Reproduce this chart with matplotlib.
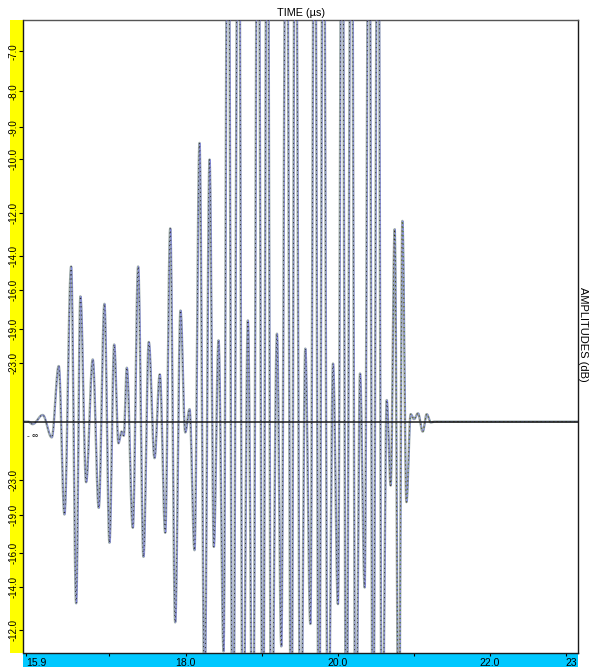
import numpy as np
import matplotlib
matplotlib.use("Agg")
import matplotlib.pyplot as plt
from matplotlib.patches import Rectangle

plt.rcParams['font.family'] = ['Liberation Sans', 'DejaVu Sans']

# Successive extrema of the received echo: time (µs) and linear amplitude (0 dB = 1.0)
echo_time_us = [
    15.870, 15.930, 15.990, 16.122, 16.241, 16.333, 16.408, 16.496, 16.562, 16.618,
    16.693, 16.780, 16.859, 16.934, 17.000, 17.062, 17.118, 17.158, 17.188, 17.228,
    17.307, 17.377, 17.447, 17.517, 17.592, 17.662, 17.733, 17.799, 17.864, 17.934,
    17.996, 18.053, 18.118, 18.184, 18.250, 18.316, 18.372, 18.434, 18.500, 18.557,
    18.622, 18.697, 18.754, 18.820, 18.886, 18.951, 19.017, 19.075, 19.128, 19.202,
    19.259, 19.325, 19.391, 19.443, 19.513, 19.575, 19.641, 19.697, 19.754, 19.812,
    19.873, 19.939, 20.004, 20.057, 20.114, 20.180, 20.237, 20.294, 20.355, 20.412,
    20.464, 20.530, 20.583, 20.645, 20.697, 20.750, 20.803, 20.851, 20.904, 20.960,
    21.004, 21.056, 21.118, 21.171, 21.224, 21.270, 23.200,
]
echo_amp = [
    0.000, 0.000, -0.003, 0.008, -0.019, 0.067, -0.112, 0.187, -0.219, 0.151,
    -0.073, 0.075, -0.104, 0.142, -0.146, 0.093, -0.026, -0.012, -0.017, 0.065,
    -0.128, 0.187, -0.163, 0.096, -0.044, 0.057, -0.134, 0.233, -0.242, 0.134,
    -0.013, 0.015, -0.155, 0.336, -0.330, 0.316, -0.151, 0.098, -0.277, 0.800,
    -0.450, 0.800, -0.450, 0.122, -0.450, 0.800, -0.450, 0.800, -0.450, 0.106,
    -0.271, 0.800, -0.450, 0.800, -0.450, 0.088, -0.244, 0.800, -0.450, 0.800,
    -0.450, 0.070, -0.220, 0.800, -0.450, 0.800, -0.450, 0.058, -0.200, 0.800,
    -0.450, 0.800, -0.450, 0.026, -0.077, 0.232, -0.450, 0.242, -0.097, 0.009,
    0.003, 0.010, -0.012, 0.009, -0.001, 0.000, 0.000,
]

# Amplitude graduations (dB) above and below the baseline
db_ticks_upper = [-7.0, -8.0, -9.0, -10.0, -12.0, -14.0, -16.0, -19.0, -23.0]
db_ticks_lower = [-23.0, -19.0, -16.0, -14.0, -12.0]

# Time graduations
time_ticks = [15.9, 18.0, 20.0, 22.0, 23.0]
time_tick_labels = ['15.9', '18.0', '20.0', '22.0', '23']
time_minor_ticks = [17.0, 19.0, 21.0]


def half_cosine_trace(t, a, n=28):
    """Join successive extrema with half-cosine arcs, as an RF trace."""
    t = np.asarray(t, float)
    a = np.asarray(a, float)
    xs, ys = [], []
    s = np.linspace(0.0, 1.0, n, endpoint=False)
    w = (1.0 - np.cos(np.pi * s)) / 2.0
    for i in range(len(t) - 1):
        xs.append(t[i] + (t[i + 1] - t[i]) * s)
        ys.append(a[i] + (a[i + 1] - a[i]) * w)
    xs.append([t[-1]])
    ys.append([a[-1]])
    return np.concatenate(xs), np.concatenate(ys)


W, H = 590, 668
fig = plt.figure(figsize=(W / 100, H / 100), dpi=100)
fig.patch.set_facecolor('white')

ax_left, ax_right, ax_top, ax_bottom = 23.5, 578, 20, 653
ax = fig.add_axes([ax_left / W, 1 - ax_bottom / H,
                   (ax_right - ax_left) / W, (ax_bottom - ax_top) / H])

# Coloured scale strips
fig.patches.append(Rectangle((10 / W, 1 - ax_bottom / H), (ax_left - 10) / W,
                             (ax_bottom - ax_top) / H, transform=fig.transFigure,
                             facecolor='#ffff00', edgecolor='none', zorder=-5))
fig.patches.append(Rectangle((ax_left / W, 1 - 667 / H), (ax_right - ax_left) / W,
                             (667 - ax_bottom) / H, transform=fig.transFigure,
                             facecolor='#00c8ff', edgecolor='none', zorder=-5))

tx, ay = half_cosine_trace(echo_time_us, echo_amp)

ax.plot(tx, ay, color='#9dabab', lw=1.75, solid_capstyle='round', zorder=2)
ax.plot(tx + 0.007, ay, color='#7a7aff', lw=0.45, alpha=0.75, zorder=3)
ax.plot(tx, ay, color='#2a2a2a', lw=0.6, dashes=(1.4, 3.6), zorder=4)
tail = tx >= 20.68
ax.plot(tx[tail], ay[tail], color='#e0303a', lw=0.6, dashes=(0.8, 4.2), zorder=5)
ax.plot(tx[tail] + 0.004, ay[tail], color='#30c040', lw=0.6, dashes=(0.8, 4.2),
        dash_capstyle='butt', zorder=5)

ax.axhline(0.0, color='#1a1a1a', lw=1.1, zorder=6)

ax.set_xlim(15.87, 23.16)
ax.set_ylim(-0.279, 0.4843)

ax.set_xticks(time_ticks)
ax.set_xticklabels(time_tick_labels)
ax.set_xticks(time_minor_ticks, minor=True)
ax.tick_params(axis='x', which='both', direction='out', length=2.5, width=0.8,
               pad=1.0, labelsize=7.5, colors='black')
xlabels = ax.get_xticklabels()
xlabels[0].set_horizontalalignment('left')
xlabels[-1].set_horizontalalignment('left')

yt_pos = [10 ** (d / 20.0) for d in db_ticks_upper]
yt_neg = [-(10 ** (d / 20.0)) for d in db_ticks_lower]
ax.set_yticks(yt_pos + yt_neg)
ax.set_yticklabels([f'{d:.1f}' for d in db_ticks_upper] +
                   [f'{d:.1f}' for d in db_ticks_lower])
ax.tick_params(axis='y', which='both', direction='out', length=3.0, width=0.8,
               pad=0.6, labelsize=7.0, labelrotation=90)
for lab in ax.get_yticklabels():
    lab.set_verticalalignment('center')

ax.text(0.006, -0.018, '- ∞', fontsize=6, ha='left', va='center',
        transform=ax.get_yaxis_transform(), zorder=7)

for sp in ax.spines.values():
    sp.set_color('#1a1a1a')
    sp.set_linewidth(1.0)
ax.spines['top'].set_color('#555555')

fig.text(301 / W, 1 - 12.5 / H, 'TIME (µs)', fontsize=7.8, ha='center', va='center')
fig.text(583 / W, 1 - 334 / H, 'AMPLITUDES (dB)', fontsize=8, ha='center',
         va='center', rotation=-90)

fig.savefig('out.png', dpi=100)
